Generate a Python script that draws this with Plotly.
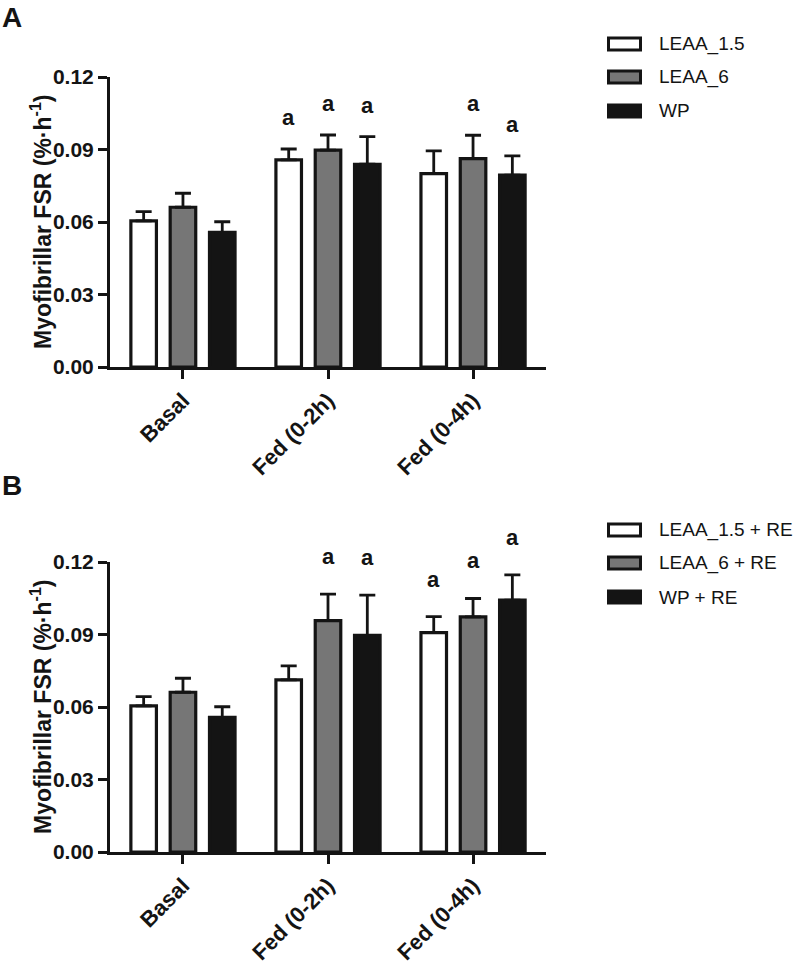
import plotly.graph_objects as go

categories = ["Basal", "Fed (0-2h)", "Fed (0-4h)"]
series_A = ["LEAA_1.5", "LEAA_6", "WP"]
series_B = ["LEAA_1.5 + RE", "LEAA_6 + RE", "WP + RE"]
y_ticks = [0.00, 0.03, 0.06, 0.09, 0.12]

# Panel A (means and upper error, %/h)
A_leaa15 = [0.0605, 0.0857, 0.0800]
A_leaa6 = [0.0661, 0.0897, 0.0862]
A_wp = [0.0557, 0.0839, 0.0794]
A_leaa15_err = [0.0038, 0.0045, 0.0094]
A_leaa6_err = [0.0058, 0.0063, 0.0097]
A_wp_err = [0.0044, 0.0114, 0.0080]
A_leaa15_sig = ["", "a", ""]
A_leaa6_sig = ["", "a", "a"]
A_wp_sig = ["", "a", "a"]

# Panel B
B_leaa15 = [0.0605, 0.0712, 0.0908]
B_leaa6 = [0.0661, 0.0957, 0.0973]
B_wp = [0.0557, 0.0896, 0.1042]
B_leaa15_err = [0.0038, 0.0058, 0.0066]
B_leaa6_err = [0.0058, 0.0110, 0.0076]
B_wp_err = [0.0044, 0.0167, 0.0105]
B_leaa15_sig = ["", "", "a"]
B_leaa6_sig = ["", "a", "a"]
B_wp_sig = ["", "a", "a"]

fill_colors = ["#ffffff", "#767676", "#141414"]
LINE = "#141414"
W, H = 796, 972
FONT = "Liberation Sans, Arial, sans-serif"

def px(x):
    return x / W

def py(y):
    return 1 - y / H

fig = go.Figure()

panels = [
    ("x", "y", series_A, [A_leaa15, A_leaa6, A_wp], [A_leaa15_err, A_leaa6_err, A_wp_err],
     [A_leaa15_sig, A_leaa6_sig, A_wp_sig], 17),
    ("x2", "y2", series_B, [B_leaa15, B_leaa6, B_wp], [B_leaa15_err, B_leaa6_err, B_wp_err],
     [B_leaa15_sig, B_leaa6_sig, B_wp_sig], 23),
]

idx = list(range(len(categories)))
bargap = 0.187
slot = (1 - bargap) / 3

annotations = []
for xa, ya, names, vals, errs, sigs, shift in panels:
    for j, (name, v, e, s) in enumerate(zip(names, vals, errs, sigs)):
        fig.add_trace(go.Bar(
            x=idx, y=v, name=name, xaxis=xa, yaxis=ya, showlegend=False,
            marker=dict(color=fill_colors[j], line=dict(color=LINE, width=3.2)),
            error_y=dict(type="data", array=e, arrayminus=[0] * len(e), symmetric=False,
                         color=LINE, thickness=2.8, width=8),
            offsetgroup=str(j),
        ))
        for i in idx:
            if s[i]:
                annotations.append(dict(
                    x=i + (j - 1) * slot, y=v[i] + e[i], xref=xa, yref=ya,
                    text="<b>" + s[i] + "</b>", showarrow=False, yanchor="bottom",
                    yshift=shift, font=dict(size=22, color=LINE, family=FONT)))

axis_common_x = dict(
    range=[-0.503, 2.503], tickvals=idx, ticktext=categories, tickangle=-45,
    showline=True, linewidth=3, linecolor=LINE, ticks="outside", ticklen=9,
    tickwidth=3, tickcolor=LINE, showgrid=False, zeroline=False, automargin=False,
    tickfont=dict(size=22, color=LINE, family=FONT, weight="bold"),
)
axis_common_y = dict(
    range=[0, 0.12], tickvals=y_ticks, tickformat=".2f",
    showline=True, linewidth=3, linecolor=LINE, ticks="outside", ticklen=9,
    tickwidth=3, tickcolor=LINE, showgrid=False, zeroline=False, automargin=False,
    tickfont=dict(size=21, color=LINE, family=FONT, weight="bold"),
)

xdom = [px(110), px(546)]
fig.update_layout(
    xaxis=dict(domain=xdom, anchor="y", **axis_common_x),
    yaxis=dict(domain=[py(367), py(77)], anchor="x", **axis_common_y),
    xaxis2=dict(domain=xdom, anchor="y2", **axis_common_x),
    yaxis2=dict(domain=[py(852), py(562)], anchor="x2", **axis_common_y),
)

# Y titles and panel letters
for ymid, letter, ytop in [((77 + 367) / 2, "A", 0), ((562 + 852) / 2, "B", 468)]:
    annotations.append(dict(
        x=px(41), y=py(ymid), xref="paper", yref="paper", textangle=-90,
        text="<b>Myofibrillar FSR (%·h<sup>-1</sup>)</b>", showarrow=False,
        xanchor="center", yanchor="middle", font=dict(size=23, color=LINE, family=FONT)))
    annotations.append(dict(
        x=px(0), y=py(ytop), xref="paper", yref="paper", text="<b>" + letter + "</b>",
        showarrow=False, xanchor="left", yanchor="top",
        font=dict(size=28, color=LINE, family=FONT)))

# Custom legends
shapes = []
for names, rows in [(series_A, [44, 77, 111]), (series_B, [530, 563, 597])]:
    for j, (name, yc) in enumerate(zip(names, rows)):
        shapes.append(dict(type="rect", xref="paper", yref="paper",
                           x0=px(608.5), x1=px(640.5), y0=py(yc + 6), y1=py(yc - 6),
                           fillcolor=fill_colors[j], line=dict(color=LINE, width=3)))
        annotations.append(dict(x=px(657), y=py(yc), xref="paper", yref="paper", text=name,
                                showarrow=False, xanchor="left", yanchor="middle",
                                font=dict(size=19, color=LINE, family=FONT)))

fig.update_layout(
    width=W, height=H, margin=dict(l=0, r=0, t=0, b=0, pad=0, autoexpand=False),
    paper_bgcolor="white", plot_bgcolor="white",
    barmode="group", bargap=bargap, bargroupgap=0.35,
    annotations=annotations, shapes=shapes, showlegend=False,
    font=dict(family=FONT, color=LINE),
)

fig.write_html("out.html", config={"displayModeBar": False},
               post_script="document.body.style.margin='0px';")
